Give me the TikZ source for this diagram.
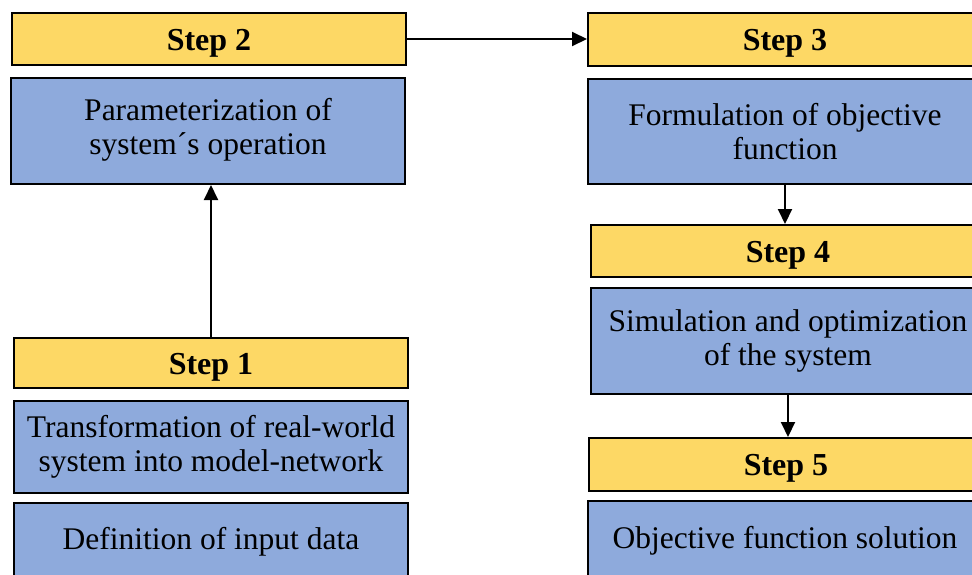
\documentclass[tikz,border=0pt]{standalone}
\usepackage{fontspec}
\setmainfont{Liberation Serif}
\usetikzlibrary{arrows.meta}
\definecolor{stepyellow}{RGB}{253,216,101}
\definecolor{taskblue}{RGB}{142,170,220}
\begin{document}
\begin{tikzpicture}[x=1pt,y=-1pt,
  stepbox/.style={draw, line width=2pt, fill=stepyellow, minimum width=394pt, anchor=north west, inner sep=0pt, text height=28pt, text depth=6pt, font=\fontsize{32}{34}\selectfont\bfseries},
  taskbox/.style={draw, line width=2pt, fill=taskblue, minimum width=394pt, anchor=north west, inner sep=0pt, align=center, font=\fontsize{31.5}{34}\selectfont},
  link/.style={line width=2pt, -{Triangle[length=15pt,width=14pt]}}]
  \useasboundingbox (0,0) rectangle (972,574);
  \clip (0,0) rectangle (972,574);

  % Left column
  \node[stepbox, minimum height=52pt] (step2) at (11,12) {Step 2};
  \node[taskbox, minimum height=106pt] (param) at (10,77) {Parameterization of\\system´s operation\\[-24pt]};
  \node[stepbox, minimum height=50pt] (step1) at (13,337) {Step 1};
  \node[taskbox, minimum height=92pt] (transf) at (13,400) {Transformation of real-world\\system into model-network};
  \node[taskbox, minimum height=78pt] (input) at (13,502) {Definition of input data};

  % Right column
  \node[stepbox, minimum height=53pt] (step3) at (587,12) {Step 3};
  \node[taskbox, minimum height=105pt] (formul) at (587,78) {Formulation of objective\\function};
  \node[stepbox, minimum height=52pt] (step4) at (590,224) {Step 4};
  \node[taskbox, minimum height=106pt] (simul) at (590,287) {Simulation and optimization\\of the system};
  \node[stepbox, minimum height=53pt] (step5) at (588,437) {Step 5};
  \node[taskbox, minimum height=80pt] (solution) at (587,500) {Objective function solution};

  % Connectors
  \draw[link] (step1.north) -- (step1.north |- param.south);
  \draw[link] (step2.east) -- (step2.east -| step3.west);
  \draw[link] (formul.south) -- (formul.south |- step4.north);
  \draw[link] (simul.south) -- (simul.south |- step5.north);
\end{tikzpicture}
\end{document}
